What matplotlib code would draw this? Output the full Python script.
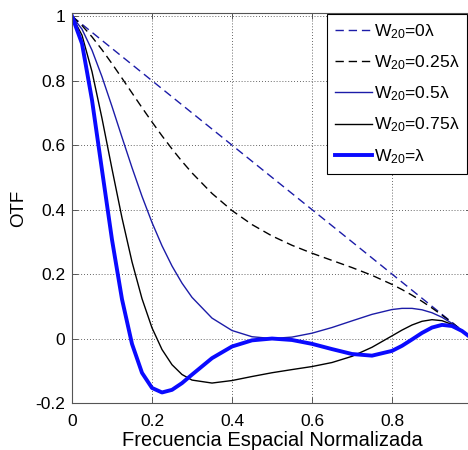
import matplotlib
matplotlib.use('Agg')
import matplotlib.pyplot as plt

plt.rcParams['font.family'] = ['Liberation Sans', 'DejaVu Sans']
plt.rcParams['mathtext.fontset'] = 'custom'
plt.rcParams['mathtext.rm'] = 'Liberation Sans'
plt.rcParams['mathtext.it'] = 'Liberation Sans:italic'

# normalized spatial frequency
freq = [0, 0.025, 0.05, 0.075, 0.1, 0.125, 0.15, 0.175, 0.2, 0.225, 0.25, 0.275,
        0.3, 0.35, 0.4, 0.45, 0.5, 0.55, 0.6, 0.65, 0.7, 0.75, 0.8, 0.825,
        0.85, 0.875, 0.9, 0.925, 0.95, 0.975, 1.0]

otf_w0 = [1.0, 0.975, 0.95, 0.925, 0.9, 0.875, 0.85, 0.825, 0.8, 0.775, 0.75, 0.725,
          0.7, 0.65, 0.6, 0.55, 0.5, 0.45, 0.4, 0.35, 0.3, 0.25, 0.2, 0.175,
          0.15, 0.125, 0.1, 0.075, 0.05, 0.025, 0.0]

otf_w025 = [1.0, 0.9712, 0.9360, 0.8960, 0.8528, 0.8077, 0.7620, 0.7164, 0.6719, 0.6290,
            0.5882, 0.5497, 0.5139, 0.4502, 0.3971, 0.3536, 0.3183, 0.2893, 0.2647,
            0.2424, 0.2202, 0.1961, 0.1680, 0.1520, 0.1345, 0.1154, 0.0948, 0.0726,
            0.0493, 0.0249, 0.0]

otf_w05 = [1.0, 0.9598, 0.8946, 0.8122, 0.7200, 0.6244, 0.5303, 0.4413, 0.3600, 0.2878,
           0.2251, 0.1719, 0.1278, 0.0634, 0.0249, 0.0056, 0.0, 0.0045, 0.0166,
           0.0342, 0.0548, 0.0750, 0.0900, 0.0936, 0.0936, 0.0892, 0.0800, 0.0659,
           0.0471, 0.0246, 0.0]

otf_w075 = [1.0, 0.9411, 0.8281, 0.6830, 0.5263, 0.3743, 0.2380, 0.1237, 0.0332, -0.0341,
            -0.0812, -0.1116, -0.1289, -0.1381, -0.1303, -0.1178, -0.1061, -0.0963,
            -0.0869, -0.0744, -0.0552, -0.0271, 0.0083, 0.0262, 0.0420, 0.0535,
            0.0585, 0.0554, 0.0436, 0.0241, 0.0]

otf_w1 = [1.0, 0.9151, 0.7399, 0.5226, 0.3066, 0.1218, -0.0167, -0.1064, -0.1533, -0.1673,
          -0.1592, -0.1383, -0.1120, -0.0609, -0.0247, -0.0056, 0.0, -0.0045, -0.0165,
          -0.0328, -0.0480, -0.0531, -0.0383, -0.0226, -0.0029, 0.0174, 0.0341,
          0.0424, 0.0389, 0.0235, 0.0]

labels = ['W$_{20}$=0λ', 'W$_{20}$=0.25λ', 'W$_{20}$=0.5λ',
          'W$_{20}$=0.75λ', 'W$_{20}$=λ']

fig = plt.figure(figsize=(4.68, 4.5), dpi=100)
ax = fig.add_axes([72 / 468, 47 / 450, 400 / 468, 390 / 450])

navy = '#1c1ca8'
ax.plot(freq, otf_w0, color=navy, lw=1.0, dashes=(6, 3.5), label=labels[0])
ax.plot(freq, otf_w025, color='black', lw=1.0, dashes=(6, 3.5), label=labels[1])
ax.plot(freq, otf_w05, color=navy, lw=1.0, label=labels[2])
ax.plot(freq, otf_w075, color='black', lw=1.0, label=labels[3])
ax.plot(freq, otf_w1, color='#0a0aff', lw=2.8, label=labels[4])

ax.set_xlim(0, 1)
ax.set_ylim(-0.2, 1.01)
# the x=1 label falls outside the cropped picture
ax.set_xticks([0, 0.2, 0.4, 0.6, 0.8, 1.0])
ax.set_xticklabels(['0', '0.2', '0.4', '0.6', '0.8', ''])
ax.set_yticks([-0.2, 0, 0.2, 0.4, 0.6, 0.8, 1.0])
ax.set_yticklabels(['-0.2', '0', '0.2', '0.4', '0.6', '0.8', '1'])
ax.tick_params(direction='in', length=4, width=0.6, labelsize=12.5,
               top=True, right=True, colors='#444444', labelcolor='black')
ax.tick_params(axis='x', pad=8)
ax.tick_params(axis='y', pad=5)
ax.grid(True, color='#333333', linestyle=(0, (1, 2.5)), linewidth=0.6)
for s in ax.spines.values():
    s.set_color('#555555')
    s.set_linewidth(0.8)

ax.set_xlabel('Frecuencia Espacial Normalizada', fontsize=14.5, labelpad=1)
ax.set_ylabel('OTF', fontsize=13.5, labelpad=6)

leg = ax.legend(loc='upper right', bbox_to_anchor=(467 / 468, 1 - 14 / 450),
                bbox_transform=fig.transFigure, fontsize=12.6, handlelength=2.1,
                handletextpad=0.1, labelspacing=0.72, borderpad=0.45,
                borderaxespad=0, fancybox=False, framealpha=1)
leg.get_frame().set_edgecolor('black')
leg.get_frame().set_linewidth(0.8)

fig.savefig('out.png', dpi=100)
